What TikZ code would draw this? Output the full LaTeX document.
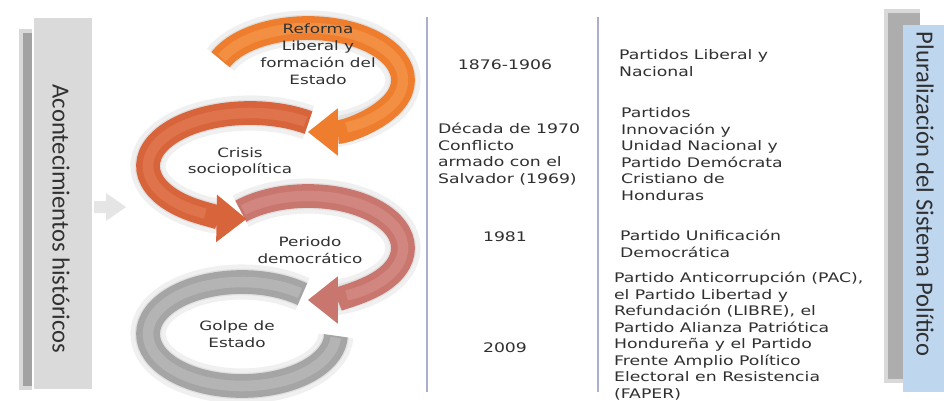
\documentclass[tikz,border=0pt]{standalone}
\usepackage{fontspec}
\usepackage{xcolor}
\usepackage{tikz}
\usetikzlibrary{arrows.meta}
\newfontfamily\colfont{DejaVu Sans}[FakeStretch=1.31]
\newfontfamily\sidefont{Carlito}
\definecolor{figtext}{RGB}{48,48,48}
\definecolor{figrule}{RGB}{170,175,205}
\definecolor{figside}{RGB}{218,218,218}
\definecolor{figblue}{RGB}{190,214,238}
\definecolor{ringone}{RGB}{238,125,45}
\definecolor{ringonehi}{RGB}{247,165,95}
\definecolor{ringtwo}{RGB}{216,100,60}
\definecolor{ringtwohi}{RGB}{232,135,95}
\definecolor{ringthree}{RGB}{200,118,110}
\definecolor{ringthreehi}{RGB}{220,155,150}
\definecolor{ringfour}{RGB}{165,165,165}
\definecolor{ringfourhi}{RGB}{200,200,200}
\tikzset{
  ring/.style    ={line width=13.5pt, line cap=butt},
  ringhi/.style  ={line width=6pt, opacity=0.45},
  ringsh/.style  ={draw=black, line width=15pt, opacity=0.06},
  ringtip/.style ={-{Triangle[width=27pt,length=17pt,line width=0pt]}},
  rule/.style    ={draw=figrule, line width=0.8pt},
  coltxt/.style  ={font=\colfont\fontsize{7.5pt}{9.4pt}\selectfont, text=figtext, inner sep=1pt},
  ringtxt/.style ={font=\colfont\fontsize{7.3pt}{9.6pt}\selectfont, text=figtext, align=center, inner sep=1pt},
  sidetxt/.style ={font=\sidefont\fontsize{14pt}{16pt}\selectfont, text=figtext, rotate=-90, inner sep=0pt},
}

\begin{document}
\begin{tikzpicture}[x=0.02cm,y=0.02cm]
  \fill[white] (0,0) rectangle (944,-400);
  \useasboundingbox (0,0) rectangle (944,-400);
  % side boxes
  \fill[black,opacity=0.15] (19,-29) rectangle (60,-390);
  \fill[black,opacity=0.25] (23,-33) rectangle (60,-386);
  \fill[figside] (33,-17) rectangle (93,-390);
  \draw[white,line width=0.6pt] (33,-17) rectangle (93,-390);
  \node[sidetxt] (hist) at (61,-219) {Acontecimientos históricos};
  \fill[figside!70] (94,-201) -- (106,-201) -- (106,-193) -- (126,-207) -- (106,-221) -- (106,-213) -- (94,-213) -- cycle;
  \fill[black,opacity=0.15] (884,-9) rectangle (920,-383);
  \fill[black,opacity=0.2] (888,-13) rectangle (920,-379);
  \fill[figblue] (903,-25) rectangle (946,-392);
  \node[sidetxt] (plural) at (925,-194) {Pluralización del Sistema Político};
  % rules
  \draw[rule] (427,-17) -- (427,-392);
  \draw[rule] (598,-17) -- (598,-392);
  % rings, bottom first
  \coordinate (c4) at (242,-334);
  \coordinate (c3) at (308,-248);
  \coordinate (c2) at (250,-166);
  \coordinate (c1) at (308,-80);
  \begin{scope}[shift={(4,-8)}]
  \draw[ringsh] (c4) ++(50:94 and 52) arc[start angle=50,end angle=358,x radius=94,y radius=52];
  \draw[ringsh,line width=20pt] (c4) ++(50:94 and 52) arc[start angle=50,end angle=358,x radius=94,y radius=52];
  \end{scope}
  \draw[ring,draw=ringfour] (c4) ++(50:94 and 52) arc[start angle=50,end angle=358,x radius=94,y radius=52];
  \draw[ringhi,draw=ringfourhi] (c4) ++(52:94 and 52) arc[start angle=52,end angle=356,x radius=94,y radius=52];
  \begin{scope}[shift={(4,-8)}]
  \draw[ringsh] (c3) ++(135:95 and 52) arc[start angle=135,end angle=-75,x radius=95,y radius=52];
  \draw[ringsh,line width=20pt] (c3) ++(135:95 and 52) arc[start angle=135,end angle=-75,x radius=95,y radius=52];
  \end{scope}
  \draw[ring,ringtip,draw=ringthree] (c3) ++(135:95 and 52) arc[start angle=135,end angle=-90,x radius=95,y radius=52];
  \draw[ringhi,draw=ringthreehi] (c3) ++(133:95 and 52) arc[start angle=133,end angle=-66,x radius=95,y radius=52];
  \begin{scope}[shift={(4,-8)}]
  \draw[ringsh] (c2) ++(55:102 and 53) arc[start angle=55,end angle=252,x radius=102,y radius=53];
  \draw[ringsh,line width=20pt] (c2) ++(55:102 and 53) arc[start angle=55,end angle=252,x radius=102,y radius=53];
  \end{scope}
  \draw[ring,ringtip,draw=ringtwo] (c2) ++(55:102 and 53) arc[start angle=55,end angle=268,x radius=102,y radius=53];
  \draw[ringhi,draw=ringtwohi] (c2) ++(57:102 and 53) arc[start angle=57,end angle=244,x radius=102,y radius=53];
  \begin{scope}[shift={(4,-8)}]
  \draw[ringsh] (c1) ++(157:95 and 52) arc[start angle=157,end angle=-75,x radius=95,y radius=52];
  \draw[ringsh,line width=20pt] (c1) ++(157:95 and 52) arc[start angle=157,end angle=-75,x radius=95,y radius=52];
  \end{scope}
  \draw[ring,ringtip,draw=ringone] (c1) ++(157:95 and 52) arc[start angle=157,end angle=-90,x radius=95,y radius=52];
  \draw[ringhi,draw=ringonehi] (c1) ++(155:95 and 52) arc[start angle=155,end angle=-66,x radius=95,y radius=52];
  % ring labels
  \node[ringtxt] (reforma) at (318,-54) {Reforma\\Liberal y\\formación del\\Estado};
  \node[ringtxt] (crisis) at (240,-162) {Crisis\\sociopolítica};
  \node[ringtxt] (periodo) at (310,-250) {Periodo\\democrático};
  \node[ringtxt] (golpe) at (237,-334) {Golpe de\\Estado};
  % years
  \node[coltxt] (y1) at (505,-65) {1876-1906};
  \node[coltxt,anchor=west,align=left] (y2) at (436,-154) {Década de 1970\\Conflicto\\armado con el\\Salvador (1969)};
  \node[coltxt] (y3) at (505,-237) {1981};
  \node[coltxt] (y4) at (505,-348) {2009};
  % parties
  \node[coltxt,anchor=west,align=left] (p1) at (617,-63) {Partidos Liberal y\\Nacional};
  \node[coltxt,anchor=west,align=left] (p2) at (619,-154) {Partidos\\Innovación y\\Unidad Nacional y\\Partido Demócrata\\Cristiano de\\Honduras};
  \node[coltxt,anchor=west,align=left] (p3) at (618,-244) {Partido Unificación\\Democrática};
  \node[coltxt,anchor=west,align=left] (p4) at (612,-336) {Partido Anticorrupción (PAC),\\el Partido Libertad y\\Refundación (LIBRE), el\\Partido Alianza Patriótica\\Hondureña y el Partido\\Frente Amplio Político\\Electoral en Resistencia\\(FAPER)};
\end{tikzpicture}
\end{document}
